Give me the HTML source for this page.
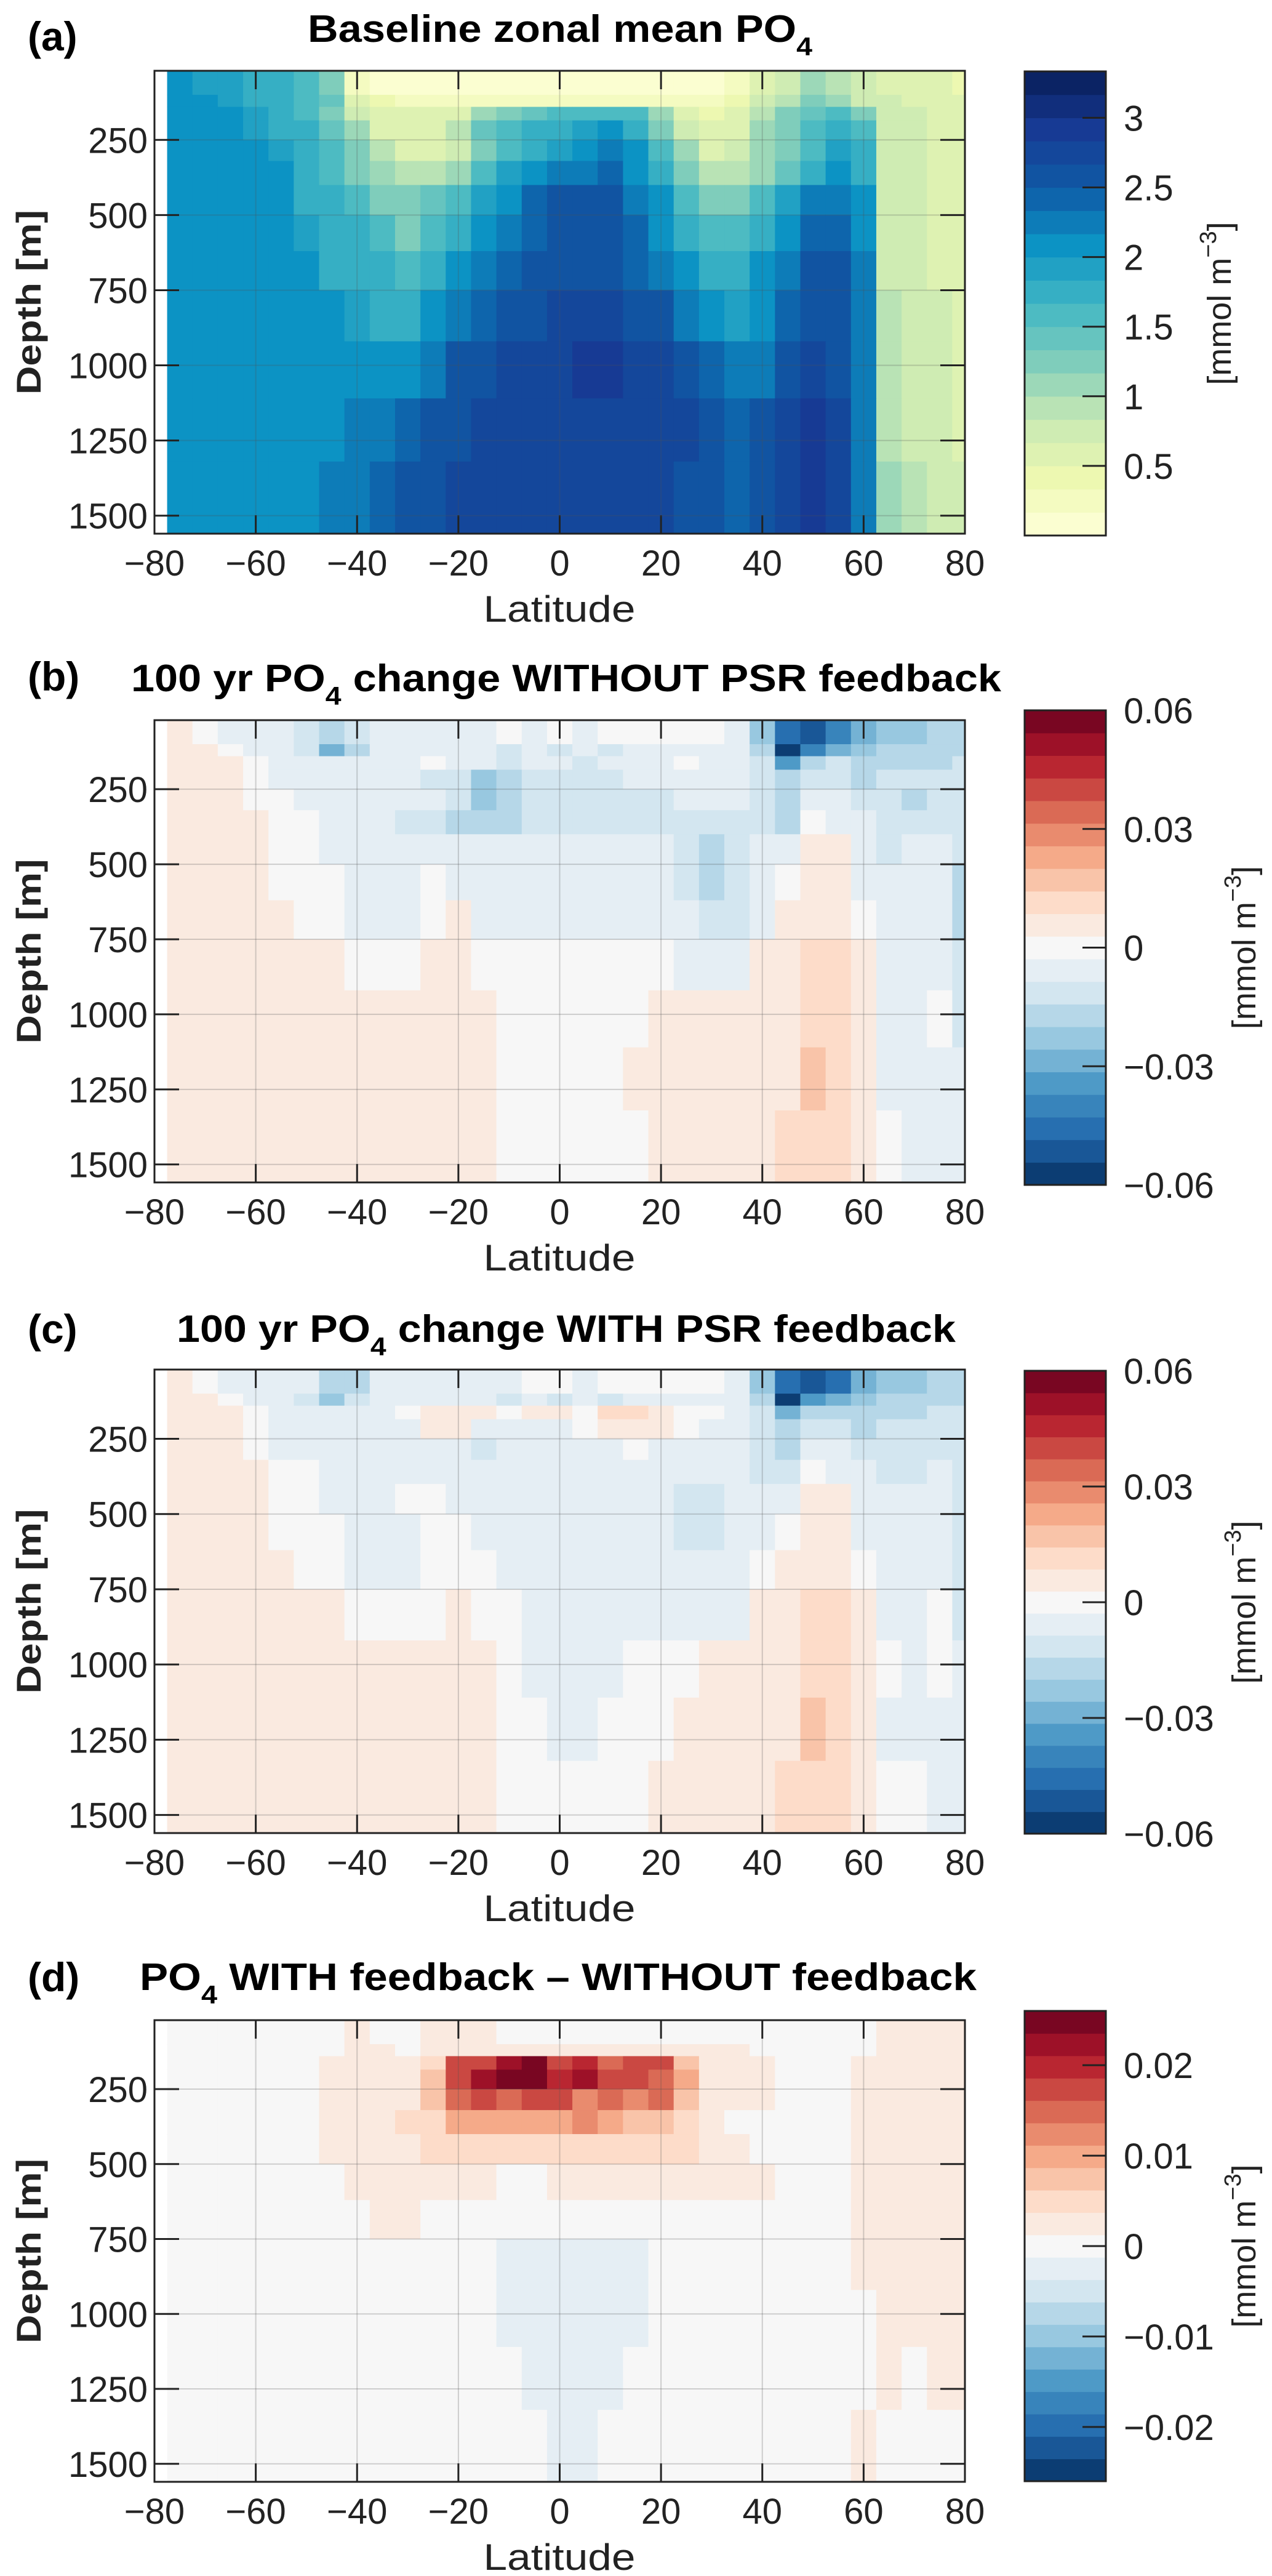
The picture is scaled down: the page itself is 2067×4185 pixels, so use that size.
<!DOCTYPE html>
<html><head><meta charset="utf-8"><style>
html,body{margin:0;padding:0;background:#fff;}
svg{display:block;font-family:"Liberation Sans",sans-serif;}
</style></head><body>
<svg id="fig" xmlns="http://www.w3.org/2000/svg" width="2067" height="4185" viewBox="0 0 2067 4185"></svg>
<script>
// ---- data ----
const latCenters = [-75,-70,-65,-60,-55,-50,-45,-40,-35,-30,-25,-20,-15,-10,-5,0,5,10,15,20,25,30,35,40,45,50,55,60,65,70,75,80];
const depthEdges = [20,100,140,185,250,320,400,500,620,750,920,1110,1320,1560];
const latTicks = [-80,-60,-40,-20,0,20,40,60,80];
const depthTicks = [250,500,750,1000,1250,1500];
const cbTicksA = [0.5,1,1.5,2,2.5,3];
const cbTicksBC = [-0.06,-0.03,0,0.03,0.06];
const cbTicksD = [-0.02,-0.01,0,0.01,0.02];
const unitScale = 0.001; // panels b-d values are in 1e-3 mmol m-3

const poBaseline = [
[2.1,1.9,1.9,1.8,1.7,1.6,1.2,0.3,0.1,0.1,0.1,0.1,0.1,0.1,0.1,0.1,0.1,0.1,0.1,0.1,0.1,0.1,0.2,0.6,0.8,1.0,0.9,0.7,0.6,0.5,0.5,0.4],
[2.1,2.0,1.9,1.8,1.7,1.6,1.4,0.6,0.4,0.3,0.2,0.2,0.3,0.2,0.2,0.2,0.2,0.2,0.2,0.2,0.2,0.2,0.4,0.8,0.9,1.2,1.0,0.8,0.7,0.6,0.6,0.6],
[2.1,2.1,2.0,1.9,1.8,1.6,1.2,0.8,0.6,0.5,0.5,0.6,1.0,1.3,1.4,1.5,1.6,1.6,1.5,1.0,0.6,0.4,0.6,0.9,1.2,1.4,1.5,1.2,0.8,0.7,0.6,0.6],
[2.1,2.1,2.0,1.9,1.8,1.7,1.4,1.1,0.6,0.5,0.6,0.9,1.4,1.6,1.7,1.8,1.9,2.0,1.7,1.3,0.8,0.5,0.6,1.0,1.3,1.5,1.7,1.5,0.8,0.7,0.6,0.6],
[2.1,2.1,2.1,2.0,1.9,1.7,1.5,1.2,0.9,0.6,0.6,0.8,1.3,1.6,1.8,1.9,2.0,2.2,2.0,1.6,1.0,0.6,0.7,1.0,1.3,1.6,1.9,1.7,0.8,0.7,0.6,0.6],
[2.1,2.1,2.1,2.1,2.0,1.8,1.6,1.3,1.0,0.9,0.9,1.1,1.5,1.9,2.0,2.2,2.3,2.4,2.1,1.8,1.2,0.9,0.9,1.1,1.4,1.7,2.1,1.8,0.8,0.7,0.6,0.6],
[2.1,2.1,2.1,2.1,2.0,1.8,1.7,1.6,1.3,1.2,1.4,1.6,1.9,2.1,2.4,2.5,2.5,2.5,2.3,2.0,1.6,1.3,1.3,1.6,1.9,2.2,2.3,2.0,0.8,0.7,0.6,0.6],
[2.1,2.1,2.1,2.1,2.0,1.9,1.8,1.7,1.5,1.3,1.6,1.8,2.1,2.3,2.4,2.5,2.5,2.5,2.4,2.1,1.8,1.6,1.6,1.8,2.1,2.4,2.4,2.1,0.8,0.7,0.6,0.6],
[2.1,2.1,2.1,2.1,2.1,2.0,1.8,1.7,1.7,1.6,1.8,2.1,2.3,2.4,2.5,2.6,2.5,2.5,2.4,2.2,2.0,1.8,1.8,2.0,2.3,2.5,2.5,2.2,0.8,0.7,0.6,0.6],
[2.1,2.1,2.1,2.1,2.1,2.0,2.0,1.9,1.8,1.8,2.0,2.3,2.4,2.6,2.6,2.7,2.7,2.7,2.6,2.5,2.3,2.1,1.9,2.1,2.4,2.6,2.6,2.2,0.9,0.8,0.7,0.6],
[2.1,2.1,2.1,2.1,2.1,2.1,2.1,2.1,2.1,2.1,2.3,2.5,2.6,2.7,2.7,2.8,2.9,2.9,2.7,2.7,2.6,2.4,2.3,2.3,2.6,2.7,2.6,2.3,0.9,0.8,0.7,0.6],
[2.1,2.1,2.1,2.1,2.1,2.1,2.1,2.2,2.3,2.4,2.5,2.6,2.7,2.7,2.8,2.8,2.8,2.8,2.7,2.7,2.7,2.6,2.4,2.6,2.7,2.9,2.7,2.3,0.9,0.8,0.7,0.6],
[2.1,2.1,2.1,2.1,2.1,2.1,2.2,2.3,2.4,2.5,2.6,2.7,2.7,2.8,2.8,2.8,2.8,2.8,2.7,2.7,2.6,2.5,2.4,2.6,2.7,2.9,2.7,2.3,1.0,0.9,0.8,0.7]
];
const changeNoFeedback = [
[4,1,-3,-3,-5,-10,-20,-12,-3,-5,-8,-4,-3,-1,-3,0,-3,-2,0,0,0,-2,-6,-25,-45,-50,-40,-30,-25,-25,-20,-20],
[4,3,0,-3,-5,-12,-30,-15,-3,-3,-3,-8,-5,-10,-5,-12,-8,-12,-5,-3,-5,-3,-8,-20,-55,-40,-30,-25,-20,-15,-15,-15],
[4,3,3,1,-3,-5,-8,-5,-3,-5,2,-7,-8,-10,-8,-8,-10,-8,-3,-3,-1,-5,-5,-12,-35,-15,-12,-20,-15,-15,-15,-12],
[4,4,4,0,-3,-5,-5,-5,-8,-8,-10,-12,-25,-18,-12,-10,-10,-10,-8,-8,-8,-8,-5,-10,-20,-10,-10,-15,-12,-12,-10,-12],
[4,4,4,2,0,-3,-5,-8,-8,-5,-8,-12,-25,-15,-12,-10,-10,-10,-10,-10,-5,-5,-8,-10,-20,-3,-5,-10,-12,-15,-12,-12],
[4,4,4,3,1,0,-3,-8,-8,-10,-10,-15,-18,-15,-12,-10,-10,-10,-12,-10,-10,-10,-10,-10,-15,0,-3,-8,-12,-10,-10,-10],
[4,4,4,3,2,0,-3,-5,-8,-5,-5,-5,-5,-5,-5,-5,-5,-8,-8,-5,-10,-15,-10,-8,-8,4,3,-5,-10,-8,-8,-12],
[4,4,4,3,2,0,0,-3,-5,-8,0,-5,-5,-5,-5,-5,-5,-8,-8,-8,-10,-15,-10,-8,0,6,4,-3,-8,-5,-3,-15],
[4,4,4,4,3,2,0,-3,-3,-3,2,4,-3,-3,-3,-3,-3,-3,-3,-5,-8,-12,-10,-3,4,8,8,2,-5,-5,-3,-15],
[4,4,4,4,4,4,3,0,0,2,4,4,0,0,0,0,0,0,0,0,-3,-3,-3,4,6,10,12,6,-3,-5,-5,-12],
[4,4,4,4,4,4,4,4,4,4,8,8,6,0,0,0,0,0,0,4,4,4,4,6,8,14,14,6,-3,-5,0,-10],
[4,4,4,4,4,4,6,6,4,6,8,8,6,0,0,0,0,0,4,4,4,4,4,6,8,15,14,6,-3,-3,-3,-5],
[4,4,4,4,4,4,6,6,6,6,6,6,4,0,0,0,0,0,2,4,4,4,4,6,10,10,10,4,0,-3,-3,-3]
];
const changeWithFeedback = [
[4,1,-3,-3,-5,-8,-15,-15,-3,-3,-5,-5,-3,-3,-1,0,-3,-2,0,0,0,0,-5,-25,-45,-50,-45,-30,-25,-25,-20,-20],
[4,3,0,-3,-5,-10,-25,-12,-3,-3,-3,-5,-5,-10,-8,-12,-8,-12,-5,-3,-5,-3,-8,-20,-55,-35,-30,-25,-20,-15,-15,-15],
[4,4,3,0,-3,-5,-8,-3,-3,0,5,8,5,2,6,3,0,10,10,5,0,0,-3,-10,-30,-15,-15,-20,-15,-15,-12,-12],
[4,4,4,0,-3,-5,-8,-5,-3,-3,3,3,-3,-5,-3,-3,0,3,3,3,0,-3,-3,-10,-20,-10,-10,-15,-12,-12,-10,-12],
[4,4,4,1,-3,-3,-5,-5,-5,-3,-3,-5,-12,-8,-5,-3,-5,-5,0,-3,-5,-5,-5,-10,-15,-3,-5,-10,-12,-12,-10,-12],
[4,4,4,3,0,-1,-5,-5,-3,-3,-3,-8,-8,-5,-5,-5,-5,-5,-5,-5,-5,-5,-5,-10,-10,0,-5,-8,-10,-10,-8,-10],
[4,4,4,3,0,0,-3,-3,-3,0,0,-5,-5,-3,-3,-3,-3,-3,-3,-5,-12,-12,-5,-5,-5,4,3,-3,-8,-5,-5,-12],
[4,4,4,3,0,0,0,-3,-5,-3,0,0,-3,-3,-3,-5,-3,-3,-3,-5,-12,-12,-5,-3,0,6,4,-3,-5,-3,-3,-12],
[4,4,4,4,3,2,0,-3,-3,-3,0,2,2,-3,-3,-3,-3,-3,-3,-5,-5,-5,-5,2,4,8,6,0,-5,-3,-3,-12],
[4,4,4,4,4,4,4,2,0,2,2,4,0,0,-3,-3,-3,-3,-3,-3,-3,-3,-3,4,6,10,10,6,-3,-5,0,-10],
[4,4,4,4,4,4,4,4,4,6,8,8,4,0,-3,-3,-3,-3,0,0,0,4,4,6,8,14,14,6,0,-3,0,-8],
[4,4,4,4,4,4,6,6,4,6,8,8,6,0,0,-3,-3,0,0,0,4,4,4,6,8,15,12,6,-3,-3,-3,-5],
[4,4,4,4,4,4,6,6,6,6,6,6,4,0,0,0,0,0,0,4,4,4,4,6,10,10,10,4,0,0,-3,-3]
];
const feedbackDiff = [
[0,0,0,0,0,0,0,2,0,0,2,2,2,0,0,0,0,0,0,0,0,0,0,0,0,0,0,1,2,2,2,2],
[0,0,0,0,0,0,0,2,2,0,2,2,2,2,3,2,3,2,3,2,2,2,2,0,0,0,0,1,2,2,2,2],
[0,0,0,0,0,0,2,2,2,3,5,18,18,22,24,18,20,16,18,18,8,2,2,2,0,0,0,2,2,2,2,2],
[0,0,0,0,0,0,2,2,2,3,8,18,22,24,24,20,22,18,18,16,9,2,2,2,0,0,0,2,2,2,2,2],
[0,0,0,0,0,0,2,2,3,3,8,16,18,16,18,18,12,14,12,14,8,2,2,2,0,0,0,2,2,2,2,2],
[0,0,0,0,0,0,2,2,2,4,5,9,9,9,9,10,12,9,8,8,5,2,0,0,0,0,0,2,2,2,2,2],
[0,0,0,0,0,0,2,2,2,2,4,5,5,4,5,5,4,5,5,5,4,2,2,0,0,0,0,2,2,2,2,2],
[0,0,0,0,0,0,0,2,2,2,2,2,2,0,0,2,2,2,2,2,2,2,2,2,0,0,0,2,2,2,2,2],
[0,0,0,0,0,0,0,0,2,2,0,0,0,-1,-1,-1,-1,-1,-1,0,0,0,0,0,0,0,0,2,2,2,2,2],
[0,0,0,0,0,0,0,0,0,0,0,-1,-1,-3,-3,-3,-3,-3,-3,-1,-1,0,0,0,0,0,0,2,2,2,2,2],
[0,0,0,0,0,0,0,0,0,0,0,-1,-1,-3,-3,-3,-3,-3,-3,-1,-1,-1,0,0,0,0,0,0,2,2,2,2],
[0,0,0,0,0,0,0,0,0,0,-1,-1,-1,-1,-3,-3,-3,-3,-1,-1,-1,-1,0,0,0,0,0,0,2,0,2,2],
[0,0,0,0,0,0,0,0,0,0,-1,-1,-1,-1,-1,-3,-3,-1,-1,-1,-1,-1,0,0,0,0,0,2,0,0,0,0]
];

// ---- rendering ----
const NS = "http://www.w3.org/2000/svg";
const svg = document.getElementById('fig');
const AX_L = 251, AX_R = 1568, CB_L = 1665, CB_R = 1797;
const YLGNBU = ['#ffffd9','#edf8b1','#c7e9b4','#7fcdbb','#41b6c4','#0c93c4','#0f5aa6','#173a94','#081d58'];
const RDBU = ['#053061','#2166ac','#4393c3','#92c5de','#d1e5f0','#f7f7f7','#fddbc7','#f4a582','#d6604d','#b2182b','#67001f'];
function hex(c){return [parseInt(c.substr(1,2),16),parseInt(c.substr(3,2),16),parseInt(c.substr(5,2),16)];}
function interp(anchors,t){
  t=Math.max(0,Math.min(1,t));
  const p=t*(anchors.length-1), i=Math.min(Math.floor(p),anchors.length-2), f=p-i;
  const a=hex(anchors[i]), b=hex(anchors[i+1]);
  return 'rgb('+a.map((v,k)=>Math.round(v+(b[k]-v)*f)).join(',')+')';
}
function mk(tag,attrs,parent){const e=document.createElementNS(NS,tag);for(const k in attrs)e.setAttribute(k,attrs[k]);(parent||svg).appendChild(e);return e;}

function drawPanel(cfg){
  const g=mk('g',{});
  
  
  const top=cfg.top, bot=cfg.bot;
  const xs=v=>AX_L+(v+80)/160*(AX_R-AX_L);
  const ys=d=>top+(d-20)/(1560-20)*(bot-top);
  const nL=cfg.levels, vmin=cfg.vmin, vmax=cfg.vmax;
  const colorOf=v=>{let i=Math.floor((v-vmin)/(vmax-vmin)*nL);i=Math.max(0,Math.min(nL-1,i));return interp(cfg.cmap,(i+0.5)/nL);};
  const cells=mk('g',{},g);
  
  
  const half=(latCenters[1]-latCenters[0])/2;
  cfg.data.forEach((row,r)=>{
    row.forEach((val,c)=>{
      const x0=xs(Math.max(-80,latCenters[c]-half)), x1=xs(Math.min(80,latCenters[c]+half));
      const y0=ys(depthEdges[r]), y1=ys(depthEdges[r+1]);
      const rc=mk('rect',{x:x0,y:y0,width:x1-x0+0.6,height:y1-y0+0.6,fill:colorOf(val*cfg.scale)},cells);
      
      
    });
  });
  latTicks.forEach(t=>{
    mk('line',{x1:xs(t),x2:xs(t),y1:top,y2:bot,stroke:'rgba(80,80,80,0.25)','stroke-width':2},g);
    mk('line',{x1:xs(t),x2:xs(t),y1:bot,y2:bot-30,stroke:'#222','stroke-width':3},g);
    mk('line',{x1:xs(t),x2:xs(t),y1:top,y2:top+30,stroke:'#222','stroke-width':3},g);
    const tl=mk('text',{x:xs(t),y:bot+68,'font-size':58,'text-anchor':'middle',fill:'#222'},g);
    tl.textContent=(t<0?'\u2212':'')+Math.abs(t);
    
    
  });
  depthTicks.forEach(t=>{
    mk('line',{x1:AX_L,x2:AX_R,y1:ys(t),y2:ys(t),stroke:'rgba(80,80,80,0.25)','stroke-width':2},g);
    mk('line',{x1:AX_L,x2:AX_L+40,y1:ys(t),y2:ys(t),stroke:'#222','stroke-width':3},g);
    mk('line',{x1:AX_R,x2:AX_R-40,y1:ys(t),y2:ys(t),stroke:'#222','stroke-width':3},g);
    const tl=mk('text',{x:240,y:ys(t)+21,'font-size':58,'text-anchor':'end',fill:'#222'},g);
    tl.textContent=t;
    
    
  });
  const box=mk('rect',{x:AX_L,y:top,width:AX_R-AX_L,height:bot-top,fill:'none',stroke:'#222','stroke-width':3},g);
  
  
  const xl=mk('text',{x:909,y:bot+143,'font-size':60,'text-anchor':'middle',fill:'#222',textLength:247,lengthAdjust:'spacingAndGlyphs'},g);
  xl.textContent='Latitude';
  
  
  const cy=(top+bot)/2;
  const yl=mk('text',{x:0,y:0,'font-size':56,'text-anchor':'middle',fill:'#222','font-weight':'bold',transform:`translate(66,${cy}) rotate(-90)`,textLength:300,lengthAdjust:'spacingAndGlyphs'},g);
  yl.textContent='Depth [m]';
  
  
  const tt=mk('text',{x:cfg.tx,y:cfg.ty,'font-size':62,'font-weight':'bold',fill:'#000',textLength:cfg.tw,lengthAdjust:'spacingAndGlyphs'},g);
  
  
  cfg.title.forEach(part=>{
    const s=mk('tspan',{},tt);
    if(part.sub){s.setAttribute('font-size',42);s.setAttribute('dy',22);}
    else if(part.after){s.setAttribute('dy',-22);}
    s.textContent=part.t;
  });
  const pl=mk('text',{x:45,y:cfg.ly,'font-size':66,'font-weight':'bold',fill:'#000'},g);
  pl.textContent=cfg.letter;
  
  
  const cb=mk('g',{},g);
  
  
  const cs=v=>cfg.cbBot-(v-vmin)/(vmax-vmin)*(cfg.cbBot-cfg.cbTop);
  for(let i=0;i<nL;i++){
    const v0=vmin+i*(vmax-vmin)/nL, v1=vmin+(i+1)*(vmax-vmin)/nL;
    const b=mk('rect',{x:CB_L,y:cs(v1),width:CB_R-CB_L,height:cs(v0)-cs(v1)+0.6,fill:interp(cfg.cmap,(i+0.5)/nL)},cb);
    
    
  }
  mk('rect',{x:CB_L,y:cfg.cbTop,width:CB_R-CB_L,height:cfg.cbBot-cfg.cbTop,fill:'none',stroke:'#222','stroke-width':3},cb);
  cfg.cbTicks.forEach(t=>{
    mk('line',{x1:CB_R,x2:CB_R-38,y1:cs(t),y2:cs(t),stroke:'#222','stroke-width':3},cb);
    const tl=mk('text',{x:1826,y:cs(t)+21,'font-size':58,fill:'#222'},cb);
    tl.textContent=(t<0?'\u2212':'')+String(Math.abs(t));
    
    
  });
  const ccy=(cfg.cbTop+cfg.cbBot)/2;
  const ul=mk('text',{x:0,y:0,'font-size':54,'text-anchor':'middle',fill:'#222',transform:`translate(${cfg.ux},${ccy}) rotate(-90)`},cb);
  
  
  const u1=mk('tspan',{},ul);u1.textContent='[mmol m';
  const u2=mk('tspan',{'font-size':38,dy:-24},ul);u2.textContent='\u22123';
  const u3=mk('tspan',{dy:24},ul);u3.textContent=']';
}

drawPanel({name:'panel-a-baseline',data:poBaseline,scale:1,top:115,bot:867,vmin:0,vmax:3.3333,levels:20,cmap:YLGNBU,
  cbTop:116,cbBot:870,cbTicks:cbTicksA,ux:2000,tx:500,ty:68,tw:820,ly:82,letter:'(a)',
  title:[{t:'Baseline zonal mean PO'},{t:'4',sub:true}]});
drawPanel({name:'panel-b-no-feedback',data:changeNoFeedback,scale:unitScale,top:1170,bot:1921,vmin:-0.06,vmax:0.06,levels:21,cmap:RDBU,
  cbTop:1154,cbBot:1925,cbTicks:cbTicksBC,ux:2040,tx:213,ty:1123,tw:1414,ly:1122,letter:'(b)',
  title:[{t:'100 yr PO'},{t:'4',sub:true},{t:' change WITHOUT PSR feedback',after:true}]});
drawPanel({name:'panel-c-with-feedback',data:changeWithFeedback,scale:unitScale,top:2225,bot:2978,vmin:-0.06,vmax:0.06,levels:21,cmap:RDBU,
  cbTop:2227,cbBot:2979,cbTicks:cbTicksBC,ux:2040,tx:287,ty:2180,tw:1266,ly:2182,letter:'(c)',
  title:[{t:'100 yr PO'},{t:'4',sub:true},{t:' change WITH PSR feedback',after:true}]});
drawPanel({name:'panel-d-difference',data:feedbackDiff,scale:unitScale,top:3282,bot:4032,vmin:-0.026,vmax:0.026,levels:21,cmap:RDBU,
  cbTop:3267,cbBot:4031,cbTicks:cbTicksD,ux:2040,tx:227,ty:3233,tw:1360,ly:3235,letter:'(d)',
  title:[{t:'PO'},{t:'4',sub:true},{t:' WITH feedback \u2013 WITHOUT feedback',after:true}]});
</script>
</body></html>
